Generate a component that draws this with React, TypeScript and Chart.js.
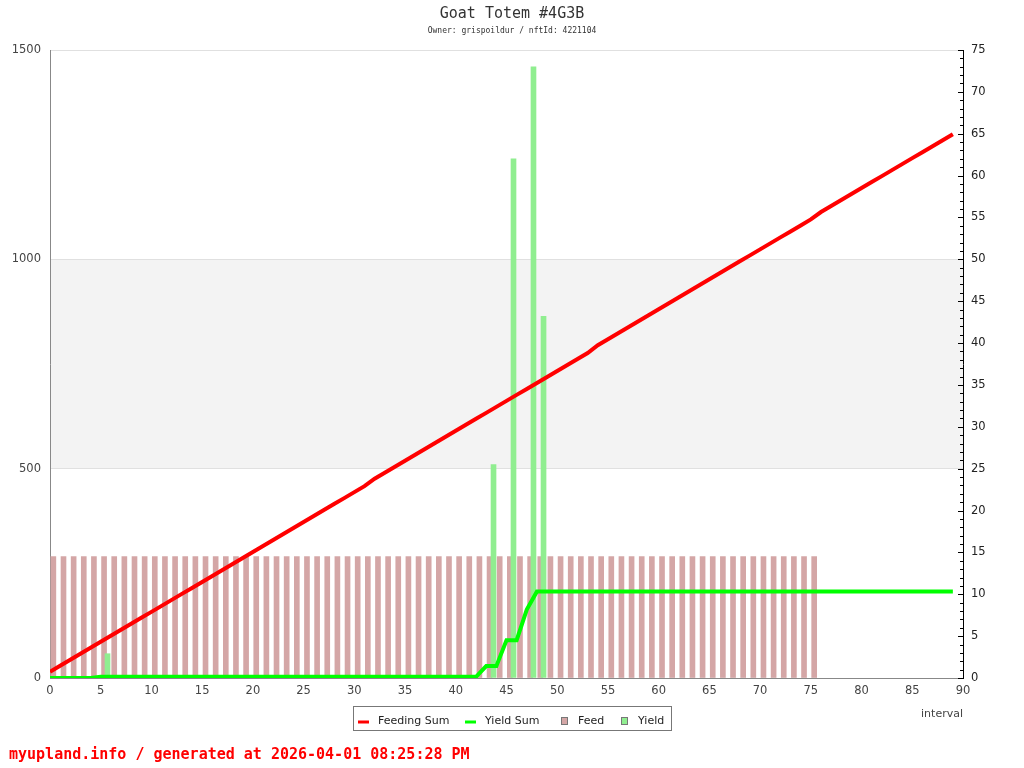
import { useEffect, useRef } from "react";
import { Chart, registerables } from "chart.js";

Chart.register(...registerables);

// interval index for the cumulative series
const intervals = [
  0, 1, 2, 3, 4, 5, 6, 7, 8, 9, 10, 11, 12, 13, 14, 15, 16, 17, 18, 19,
  20, 21, 22, 23, 24, 25, 26, 27, 28, 29, 30, 31, 32, 33, 34, 35, 36, 37, 38, 39,
  40, 41, 42, 43, 44, 45, 46, 47, 48, 49, 50, 51, 52, 53, 54, 55, 56, 57, 58, 59,
  60, 61, 62, 63, 64, 65, 66, 67, 68, 69, 70, 71, 72, 73, 74, 75, 76, 77, 78, 79,
  80, 81, 82, 83, 84, 85, 86, 87, 88, 89,
];

// cumulative feed (left axis)
const feedingSum = [
  15.0, 29.3, 43.6, 57.9, 72.2, 86.5, 100.8, 115.1, 129.4, 143.7,
  158.0, 172.3, 186.6, 200.9, 215.2, 229.5, 243.8, 258.1, 272.4, 286.7,
  301.0, 315.3, 329.6, 343.9, 358.2, 372.5, 386.8, 401.1, 415.4, 429.7,
  444.0, 458.3, 476.0, 490.3, 504.6, 518.9, 533.2, 547.5, 561.8, 576.1,
  590.4, 604.7, 619.0, 633.3, 647.6, 661.9, 676.2, 690.5, 704.8, 719.1,
  733.4, 747.7, 762.0, 776.3, 795.0, 809.3, 823.6, 837.9, 852.2, 866.5,
  880.8, 895.1, 909.4, 923.7, 938.0, 952.3, 966.6, 980.9, 995.2, 1009.5,
  1023.8, 1038.1, 1052.4, 1066.7, 1081.0, 1095.3, 1113.0, 1127.3, 1141.6, 1155.9,
  1170.2, 1184.5, 1198.8, 1213.1, 1227.4, 1241.7, 1256.0, 1270.3, 1284.6, 1298.9,
];

// cumulative yield (left axis)
const yieldSum = [
  0, 0, 0, 0, 0, 2.9, 2.9, 2.9, 2.9, 2.9,
  2.9, 2.9, 2.9, 2.9, 2.9, 2.9, 2.9, 2.9, 2.9, 2.9,
  2.9, 2.9, 2.9, 2.9, 2.9, 2.9, 2.9, 2.9, 2.9, 2.9,
  2.9, 2.9, 2.9, 2.9, 2.9, 2.9, 2.9, 2.9, 2.9, 2.9,
  2.9, 2.9, 2.9, 28.4, 28.4, 90.4, 90.4, 163.4, 206.6, 206.6,
  206.6, 206.6, 206.6, 206.6, 206.6, 206.6, 206.6, 206.6, 206.6, 206.6,
  206.6, 206.6, 206.6, 206.6, 206.6, 206.6, 206.6, 206.6, 206.6, 206.6,
  206.6, 206.6, 206.6, 206.6, 206.6, 206.6, 206.6, 206.6, 206.6, 206.6,
  206.6, 206.6, 206.6, 206.6, 206.6, 206.6, 206.6, 206.6, 206.6, 206.6,
];

// individual feedings (right axis)
const feedTimes = [
  0.33, 1.33, 2.33, 3.33, 4.33, 5.33, 6.33, 7.33, 8.33, 9.33,
  10.33, 11.33, 12.33, 13.33, 14.33, 15.33, 16.33, 17.33, 18.33, 19.33,
  20.33, 21.33, 22.33, 23.33, 24.33, 25.33, 26.33, 27.33, 28.33, 29.33,
  30.33, 31.33, 32.33, 33.33, 34.33, 35.33, 36.33, 37.33, 38.33, 39.33,
  40.33, 41.33, 42.33, 43.33, 44.33, 45.33, 46.33, 47.33, 48.33, 49.33,
  50.33, 51.33, 52.33, 53.33, 54.33, 55.33, 56.33, 57.33, 58.33, 59.33,
  60.33, 61.33, 62.33, 63.33, 64.33, 65.33, 66.33, 67.33, 68.33, 69.33,
  70.33, 71.33, 72.33, 73.33, 74.33, 75.33,
];
const feedAmounts = [
  14.5, 14.5, 14.5, 14.5, 14.5, 14.5, 14.5, 14.5, 14.5, 14.5,
  14.5, 14.5, 14.5, 14.5, 14.5, 14.5, 14.5, 14.5, 14.5, 14.5,
  14.5, 14.5, 14.5, 14.5, 14.5, 14.5, 14.5, 14.5, 14.5, 14.5,
  14.5, 14.5, 14.5, 14.5, 14.5, 14.5, 14.5, 14.5, 14.5, 14.5,
  14.5, 14.5, 14.5, 14.5, 14.5, 14.5, 14.5, 14.5, 14.5, 14.5,
  14.5, 14.5, 14.5, 14.5, 14.5, 14.5, 14.5, 14.5, 14.5, 14.5,
  14.5, 14.5, 14.5, 14.5, 14.5, 14.5, 14.5, 14.5, 14.5, 14.5,
  14.5, 14.5, 14.5, 14.5, 14.5, 14.5,
];

// individual yields (right axis)
const yieldTimes = [5.67, 43.72, 45.69, 47.66, 48.65];
const yieldAmounts = [2.9, 25.5, 62, 73, 43.2];

const leftTicks = [0, 500, 1000, 1500];
const bandRange = [500, 1000];

const TITLE = "Goat Totem #4G3B";
const SUBTITLE = "Owner: grispoildur / nftId: 4221104";
const FOOTER = "myupland.info / generated at 2026-04-01 08:25:28 PM";
const X_LABEL = "interval";

const legendItems = [
  { label: "Feeding Sum", kind: "line", color: "#ff0000" },
  { label: "Yield Sum", kind: "line", color: "#00ff00" },
  { label: "Feed", kind: "box", color: "#d4a6a6" },
  { label: "Yield", kind: "box", color: "#90ee90" },
];

const SANS = "'DejaVu Sans', sans-serif";
const MONO = "'DejaVu Sans Mono', monospace";

const bandPlugin = {
  id: "band",
  beforeDraw(chart: any) {
    const { ctx, chartArea, scales } = chart;
    const y = scales.y;
    const top = y.getPixelForValue(bandRange[1]);
    const bottom = y.getPixelForValue(bandRange[0]);
    ctx.save();
    ctx.fillStyle = "#f3f3f3";
    ctx.fillRect(chartArea.left, top, chartArea.right - chartArea.left, bottom - top);
    ctx.restore();
  },
};

const decorPlugin = {
  id: "decor",
  afterDraw(chart: any) {
    const { ctx, chartArea, scales } = chart;
    ctx.save();

    // inward tick marks on the right axis
    const y1 = scales.y1;
    ctx.strokeStyle = "#000";
    ctx.lineWidth = 1;
    for (let v = 0; v <= 75; v++) {
      const py = Math.round(y1.getPixelForValue(v)) + 0.5;
      const len = v % 5 === 0 ? 6 : 4;
      ctx.beginPath();
      ctx.moveTo(chartArea.right + 1, py);
      ctx.lineTo(chartArea.right + 1 - len, py);
      ctx.stroke();
    }

    // title and subtitle
    ctx.fillStyle = "#333";
    ctx.textAlign = "center";
    ctx.textBaseline = "middle";
    ctx.font = `15px ${MONO}`;
    ctx.fillText(TITLE, 512, 14);
    ctx.font = `8px ${MONO}`;
    ctx.fillText(SUBTITLE, 512, 31);

    // axis caption
    ctx.fillStyle = "#444";
    ctx.font = `11px ${SANS}`;
    ctx.textAlign = "right";
    ctx.fillText(X_LABEL, chartArea.right, 714);

    // legend
    ctx.strokeStyle = "#777";
    ctx.lineWidth = 1;
    ctx.strokeRect(353.5, 706.5, 318, 24);
    const starts = [358, 465, 561, 621];
    ctx.textAlign = "left";
    ctx.textBaseline = "alphabetic";
    ctx.font = `11px ${SANS}`;
    legendItems.forEach((it, i) => {
      const x = starts[i];
      if (it.kind === "line") {
        ctx.strokeStyle = it.color;
        ctx.lineWidth = 3;
        ctx.beginPath();
        ctx.moveTo(x, 722);
        ctx.lineTo(x + 11, 722);
        ctx.stroke();
        ctx.fillStyle = "#222";
        ctx.fillText(it.label, x + 20, 724);
      } else {
        ctx.fillStyle = it.color;
        ctx.fillRect(x, 717, 6, 7);
        ctx.strokeStyle = "#777";
        ctx.lineWidth = 1;
        ctx.strokeRect(x + 0.5, 717.5, 6, 7);
        ctx.fillStyle = "#222";
        ctx.fillText(it.label, x + 17, 724);
      }
    });

    // footer
    ctx.fillStyle = "#ff0000";
    ctx.font = `bold 15px ${MONO}`;
    ctx.textAlign = "left";
    ctx.textBaseline = "alphabetic";
    ctx.fillText(FOOTER, 9, 759);

    ctx.restore();
  },
};

export default function App() {
  const canvasRef = useRef<HTMLCanvasElement | null>(null);

  useEffect(() => {
    const canvas = canvasRef.current;
    if (!canvas) return;
    const tickFont = { family: SANS, size: 11.5 };
    const plain = (v: any) => String(v);

    const chart = new Chart(canvas, {
      type: "bar",
      data: {
        datasets: [
          {
            type: "line",
            label: "Feeding Sum",
            data: intervals.map((x, i) => ({ x, y: feedingSum[i] })),
            yAxisID: "y",
            borderColor: "#ff0000",
            backgroundColor: "#ff0000",
            borderWidth: 4,
            pointRadius: 0,
            tension: 0,
            order: 0,
          },
          {
            type: "line",
            label: "Yield Sum",
            data: intervals.map((x, i) => ({ x, y: yieldSum[i] })),
            yAxisID: "y",
            borderColor: "#00ff00",
            backgroundColor: "#00ff00",
            borderWidth: 4,
            pointRadius: 0,
            tension: 0,
            order: 1,
          },
          {
            type: "bar",
            label: "Yield",
            data: yieldTimes.map((x, i) => ({ x, y: yieldAmounts[i] })),
            yAxisID: "y1",
            backgroundColor: "#90ee90",
            barThickness: 5,
            grouped: false,
            order: 2,
          },
          {
            type: "bar",
            label: "Feed",
            data: feedTimes.map((x, i) => ({ x, y: feedAmounts[i] })),
            yAxisID: "y1",
            backgroundColor: "#d4a6a6",
            barThickness: 5,
            grouped: false,
            order: 3,
          },
        ] as any,
      },
      options: {
        animation: false,
        responsive: true,
        maintainAspectRatio: false,
        devicePixelRatio: 1,
        layout: { padding: { top: 50, left: 0, right: 0, bottom: 0 } },
        plugins: {
          legend: { display: false },
          title: { display: false },
          tooltip: { enabled: false },
        },
        scales: {
          x: {
            type: "linear",
            min: 0,
            max: 90,
            offset: false,
            ticks: {
              stepSize: 5,
              color: "#444",
              font: tickFont,
              padding: 6,
              maxRotation: 0,
              autoSkip: false,
              callback: plain,
            },
            grid: { display: false, drawTicks: false },
            border: { display: true, color: "#888" },
            afterFit: (s: any) => {
              s.height = 90;
            },
          },
          y: {
            position: "left",
            min: 0,
            max: 1500,
            afterBuildTicks: (s: any) => {
              s.ticks = leftTicks.map((v) => ({ value: v }));
            },
            ticks: { color: "#444", font: tickFont, padding: 9, callback: plain },
            grid: {
              drawTicks: false,
              color: (c: any) => (c.tick && c.tick.value === 0 ? "rgba(0,0,0,0)" : "#e0e0e0"),
            },
            border: { display: true, color: "#888" },
            afterFit: (s: any) => {
              s.width = 50;
            },
          },
          y1: {
            position: "right",
            min: 0,
            max: 75,
            ticks: { stepSize: 5, color: "#222", font: tickFont, padding: 8, callback: plain },
            grid: { drawOnChartArea: false, drawTicks: false },
            border: { display: true, color: "#000" },
            afterFit: (s: any) => {
              s.width = 61;
            },
          },
        },
      } as any,
      plugins: [bandPlugin, decorPlugin],
    });

    return () => chart.destroy();
  }, []);

  return (
    <div style={{ position: "absolute", left: 0, top: 0, width: 1024, height: 768, background: "#fff" }}>
      <canvas ref={canvasRef} />
    </div>
  );
}
